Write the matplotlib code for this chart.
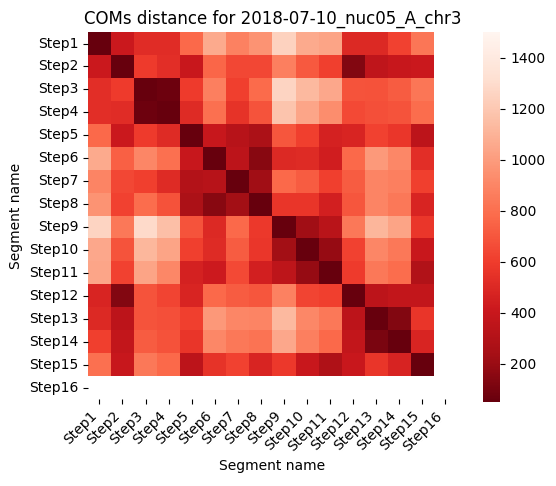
import numpy as np
import pandas as pd
import seaborn as sns
import matplotlib
matplotlib.use("Agg")
import matplotlib.pyplot as plt

# segment names
steps = [f"Step{i}" for i in range(1, 17)]

# distances (rows Step1..Step15, cols Step1..Step15)
row01 = [50, 410, 520, 520, 770, 1060, 880, 960, 1250, 1060, 1030, 500, 500, 620, 830]
row02 = [410, 50, 590, 530, 400, 760, 640, 640, 870, 710, 610, 130, 360, 390, 410]
row03 = [530, 590, 50, 70, 590, 870, 610, 780, 1260, 1130, 1050, 690, 680, 720, 830]
row04 = [530, 520, 70, 50, 510, 800, 550, 690, 1180, 1040, 930, 650, 670, 690, 790]
row05 = [770, 410, 590, 510, 50, 390, 320, 270, 700, 610, 460, 480, 620, 570, 340]
row06 = [1060, 740, 900, 800, 390, 50, 340, 150, 500, 510, 440, 770, 990, 910, 530]
row07 = [890, 640, 610, 510, 300, 320, 50, 225, 770, 720, 610, 720, 890, 870, 610]
row08 = [960, 620, 790, 680, 270, 150, 230, 50, 560, 560, 450, 700, 890, 840, 480]
row09 = [1260, 840, 1290, 1160, 690, 500, 770, 580, 50, 225, 330, 840, 1110, 1030, 570]
row10 = [1050, 690, 1120, 1030, 610, 510, 720, 570, 230, 50, 190, 620, 900, 840, 400]
row11 = [1040, 620, 1030, 910, 460, 420, 650, 450, 350, 190, 50, 590, 840, 790, 290]
row12 = [480, 130, 690, 630, 480, 770, 720, 700, 880, 630, 610, 50, 340, 370, 370]
row13 = [500, 340, 690, 670, 610, 980, 900, 890, 1130, 910, 840, 340, 50, 130, 560]
row14 = [610, 370, 720, 680, 560, 910, 840, 820, 1050, 870, 770, 370, 110, 50, 480]
row15 = [800, 390, 840, 770, 340, 550, 620, 480, 580, 400, 280, 400, 560, 470, 50]

rows = [row01, row02, row03, row04, row05, row06, row07, row08,
        row09, row10, row11, row12, row13, row14, row15]

# Step16 has no data
mat = np.full((16, 16), np.nan)
mat[:15, :15] = np.array(rows, dtype=float)
df = pd.DataFrame(mat, index=steps, columns=steps)

fig = plt.figure(figsize=(5.56, 4.86), dpi=100)
ax = fig.add_axes([0.158, 0.179, 0.664, 0.755])
cax = fig.add_axes([0.869, 0.173, 0.031, 0.761])

sns.heatmap(df, cmap="Reds_r", vmin=50, vmax=1500, ax=ax, cbar_ax=cax,
            xticklabels=steps, yticklabels=steps)

ax.set_title("COMs distance for 2018-07-10_nuc05_A_chr3", fontsize=12)
ax.set_xlabel("Segment name")
ax.set_ylabel("Segment name")
ax.set_xticklabels(steps, rotation=45, ha="right")
ax.set_yticklabels(steps, rotation=0)
cax.tick_params(labelsize=10)

fig.savefig("out.png", dpi=100)
